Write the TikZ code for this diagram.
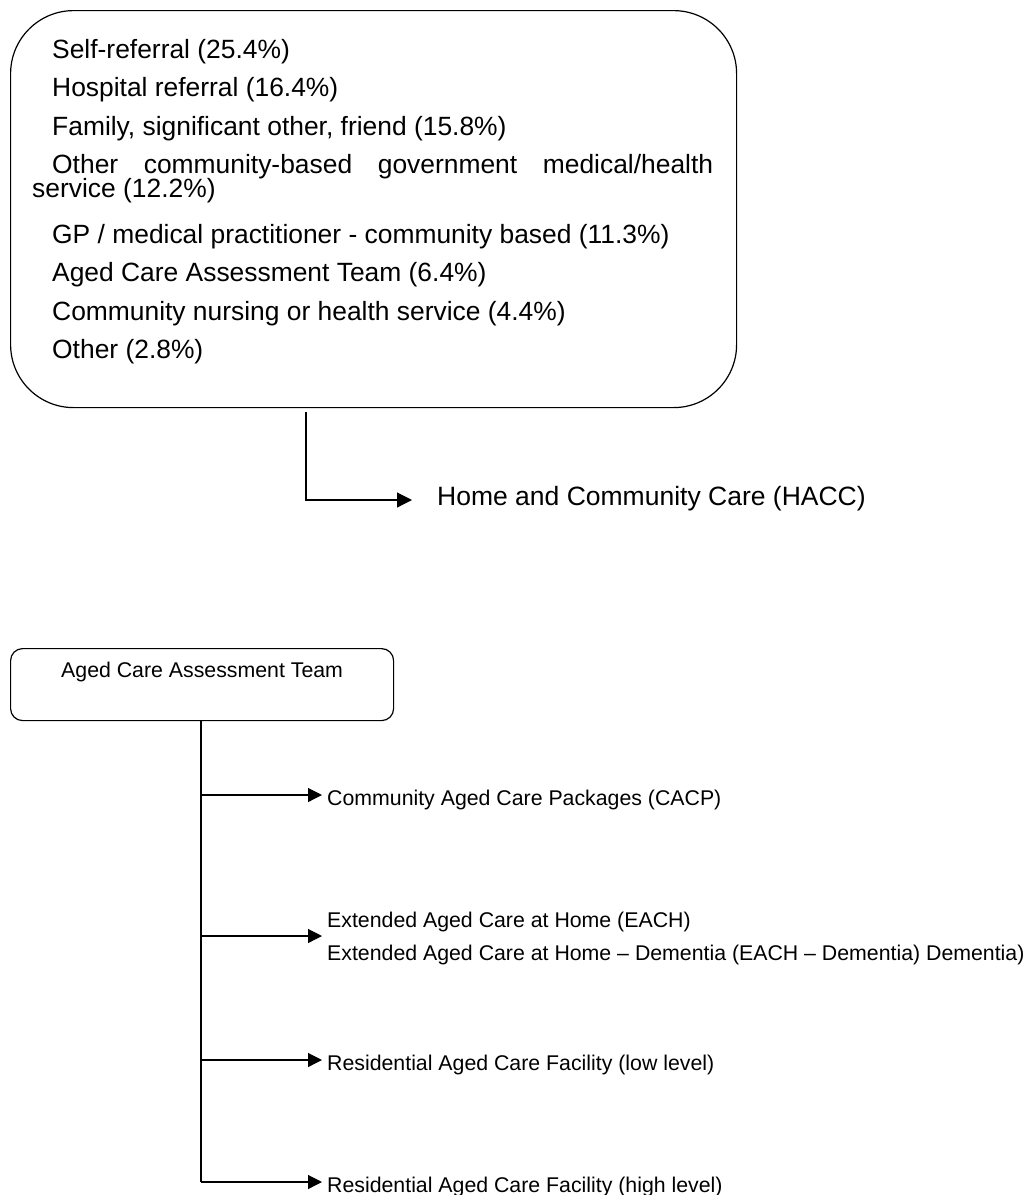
\documentclass[tikz,border=0pt]{standalone}
\usepackage{fontspec}
\setmainfont{Liberation Sans}
\usetikzlibrary{arrows.meta}
\begin{document}
\begin{tikzpicture}[x=1pt,y=-1pt,
  conn/.style={line width=1.2pt, black},
  arr/.style={conn, -{Triangle[length=14pt,width=14pt]}},
  bigtxt/.style={inner sep=0pt, anchor=base west, font=\fontsize{26.4}{30}\selectfont},
  smalltxt/.style={inner xsep=5pt, inner ysep=0pt, anchor=west, font=\fontsize{21.3}{33}\selectfont},
  onel/.style={text height=24pt, text depth=4pt},
]
\useasboundingbox (0,0) rectangle (1029,1195);
% referral box
\node[draw, line width=1.2pt, rounded corners=63pt, minimum width=726pt, minimum height=397pt, anchor=north west, inner sep=0pt] (refbox) at (10,10) {};
\node[bigtxt] (r1) at (52,58.7) {Self-referral (25.4\%)};
\node[bigtxt] (r2) at (52,96.7) {Hospital referral (16.4\%)};
\node[bigtxt] (r3) at (52,135) {Family, significant other, friend (15.8\%)};
\node[bigtxt] (r4a) at (52,173.3) {\makebox[661pt][s]{Other community-based government medical/health}};
\node[bigtxt] (r4b) at (32,197.7) {service (12.2\%)};
\node[bigtxt] (r5) at (52,243.3) {GP / medical practitioner - community based (11.3\%)};
\node[bigtxt] (r6) at (52,281.7) {Aged Care Assessment Team (6.4\%)};
\node[bigtxt] (r7) at (52,320) {Community nursing or health service (4.4\%)};
\node[bigtxt] (r8) at (52,358.3) {Other (2.8\%)};
% HACC
\coordinate (hx) at (306,0);
\path (refbox.south -| hx) ++(0,4) coordinate (hstart);
\node[inner xsep=25pt, inner ysep=0pt, anchor=west, font=\fontsize{26.5}{30}\selectfont, text height=17pt, text depth=7pt] (hacc) at (412,500) {Home and Community Care (HACC)};
\draw[conn, -{Triangle[length=15pt,width=15pt]}] (hstart) |- (hacc.west);
% ACAT
\node[draw, line width=1.2pt, rounded corners=12pt, minimum width=383pt, anchor=north west, inner xsep=0pt, inner ysep=13.4pt, text height=15.3pt, text depth=29.9pt, font=\fontsize{21.3}{26}\selectfont] (acat) at (10,648) {Aged Care Assessment Team};
\coordinate (b1) at (201,795);
\coordinate (b2) at (201,936);
\coordinate (b3) at (201,1060);
\coordinate (b4) at (201,1182);
\draw[conn] (acat.south -| b1) -- (b4);
\node[smalltxt, onel] (cacp) at (322,795) {Community Aged Care Packages (CACP)};
\node[smalltxt, align=left] (each) at (322,938) {Extended Aged Care at Home (EACH)\\Extended Aged Care at Home -- Dementia (EACH -- Dementia) Dementia)};
\node[smalltxt, onel] (rlow) at (322,1060) {Residential Aged Care Facility (low level)};
\node[smalltxt, onel] (rhigh) at (322,1182) {Residential Aged Care Facility (high level)};
\draw[arr] (b1) -- (cacp.west);
\draw[arr] (b2) -- (b2 -| each.west);
\draw[arr] (b3) -- (rlow.west);
\draw[arr] (b4) -- (rhigh.west);
\end{tikzpicture}
\end{document}
